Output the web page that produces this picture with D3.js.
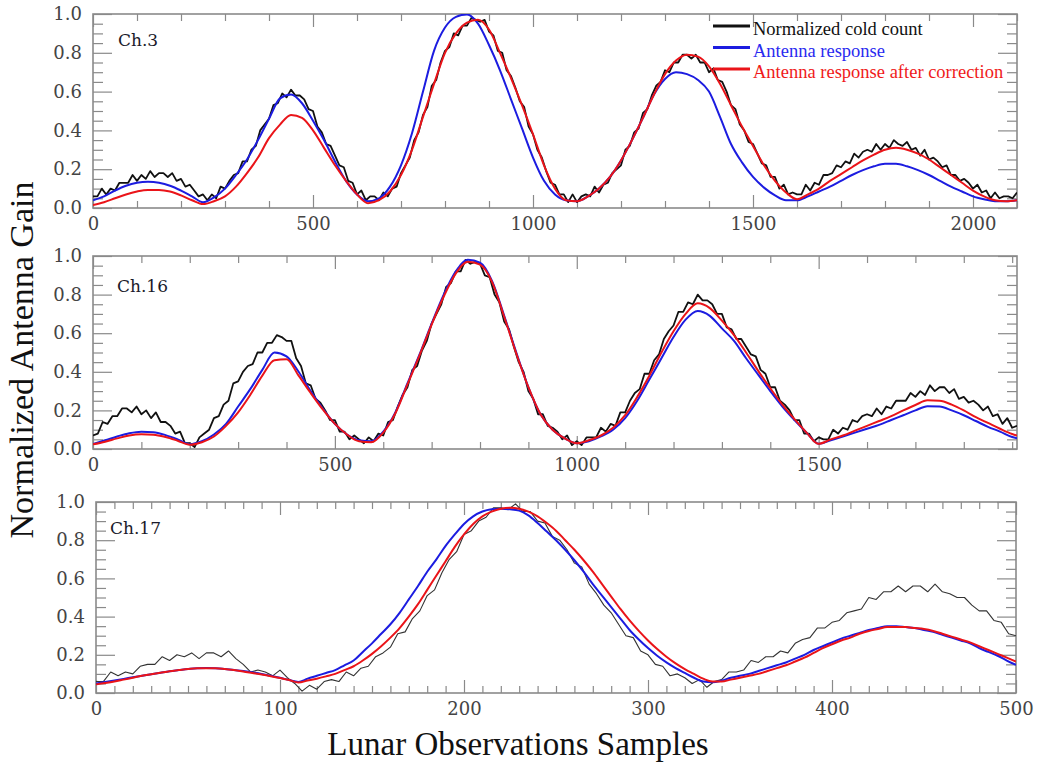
<!DOCTYPE html>
<html><head><meta charset="utf-8">
<script src="https://cdn.jsdelivr.net/npm/d3@7"></script>
<style>html,body{margin:0;padding:0;background:#fff;} svg{display:block;}</style>
</head><body>
<svg id="chart" width="1037" height="764"></svg>
<script>
// ---------- labels ----------
const seriesNames = ["Normalized cold count", "Antenna response", "Antenna response after correction"];
const panelLabels = ["Ch.3", "Ch.16", "Ch.17"];
const xAxisTitle = "Lunar Observations Samples";
const yAxisTitle = "Normalized Antenna Gain";
const yTickValues = [0, 0.2, 0.4, 0.6, 0.8, 1.0];
const yTickLabels = ["0.0", "0.2", "0.4", "0.6", "0.8", "1.0"];
const ch3XTicks = [0, 500, 1000, 1500, 2000];
const ch3XTickLabels = ["0", "500", "1000", "1500", "2000"];
const ch16XTicks = [0, 500, 1000, 1500];
const ch16XTickLabels = ["0", "500", "1000", "1500"];
const ch17XTicks = [0, 100, 200, 300, 400, 500];
const ch17XTickLabels = ["0", "100", "200", "300", "400", "500"];

// ---------- Ch.3 ----------
const ch3BlackX = d3.range(0, 2101, 10);
const ch3Black = [
0.06,0.06,0.10,0.07,0.10,0.09,0.13,0.13,0.13,0.17,0.14,0.17,0.15,0.19,0.16,0.18,
0.18,0.16,0.18,0.14,0.15,0.11,0.12,0.09,0.06,0.07,0.04,0.07,0.05,0.11,0.10,0.14,
0.17,0.18,0.24,0.24,0.30,0.32,0.40,0.43,0.46,0.53,0.54,0.59,0.57,0.61,0.58,0.58,
0.56,0.51,0.50,0.42,0.39,0.33,0.32,0.27,0.22,0.21,0.14,0.13,0.07,0.09,0.04,0.06,
0.06,0.04,0.08,0.06,0.10,0.11,0.18,0.22,0.26,0.35,0.39,0.48,0.52,0.63,0.66,0.75,
0.81,0.83,0.90,0.89,0.94,0.94,0.98,0.97,0.96,0.97,0.91,0.89,0.81,0.80,0.71,0.68,
0.62,0.55,0.52,0.42,0.38,0.30,0.26,0.19,0.13,0.12,0.07,0.07,0.03,0.07,0.03,0.06,
0.07,0.06,0.11,0.08,0.12,0.13,0.18,0.20,0.22,0.30,0.32,0.39,0.41,0.49,0.51,0.58,
0.63,0.65,0.71,0.70,0.75,0.75,0.79,0.79,0.77,0.79,0.75,0.75,0.70,0.72,0.66,0.65,
0.60,0.53,0.51,0.43,0.40,0.34,0.33,0.28,0.23,0.22,0.16,0.16,0.10,0.12,0.07,0.08,
0.07,0.07,0.12,0.09,0.13,0.12,0.17,0.17,0.18,0.22,0.21,0.24,0.23,0.28,0.26,0.29,
0.30,0.29,0.33,0.30,0.33,0.31,0.35,0.33,0.32,0.34,0.30,0.31,0.27,0.30,0.25,0.26,
0.24,0.21,0.22,0.17,0.17,0.14,0.15,0.13,0.10,0.12,0.08,0.09,0.05,0.08,0.05,0.06,
0.06,0.05,0.08];
const ch3SmoothX = d3.range(0, 2101, 25);
const ch3Blue = [
0.04,0.06,0.09,0.115,0.13,0.135,0.13,0.115,0.09,0.06,0.03,
0.055,0.10,0.17,0.25,0.35,0.46,0.565,0.585,0.54,0.45,0.35,0.24,0.14,0.07,0.035,
0.05,0.11,0.22,0.385,0.60,0.81,0.93,0.985,0.998,0.95,0.84,0.71,0.56,0.41,0.26,0.14,0.07,0.04,
0.035,0.06,0.10,0.16,0.245,0.35,0.465,0.585,0.665,0.70,0.69,0.66,0.60,0.47,0.33,0.235,0.16,0.105,0.065,0.04,
0.04,0.06,0.085,0.11,0.14,0.17,0.195,0.215,0.228,0.228,0.215,0.195,0.17,0.14,0.11,0.085,0.06,0.045,0.035,0.035,0.04];
const ch3Red = [
0.015,0.03,0.05,0.07,0.085,0.093,0.093,0.085,0.065,0.04,0.02,
0.035,0.06,0.11,0.18,0.26,0.36,0.43,0.48,0.465,0.40,0.31,0.22,0.14,0.07,0.025,
0.04,0.085,0.17,0.30,0.47,0.64,0.80,0.90,0.955,0.97,0.92,0.80,0.67,0.53,0.38,0.22,0.10,0.04,
0.035,0.06,0.10,0.16,0.245,0.35,0.465,0.585,0.69,0.76,0.79,0.78,0.73,0.64,0.53,0.42,0.32,0.22,0.14,0.08,
0.045,0.07,0.10,0.14,0.175,0.21,0.245,0.275,0.30,0.31,0.30,0.28,0.25,0.21,0.17,0.13,0.09,0.06,0.04,0.035,0.04];

// ---------- Ch.16 ----------
const ch16BlackX = d3.range(0, 1911, 10);
const ch16Black = [
0.07,0.08,0.14,0.13,0.17,0.17,0.21,0.21,0.19,0.22,0.18,0.20,0.16,0.19,0.14,0.14,
0.12,0.08,0.09,0.03,0.03,0.01,0.06,0.08,0.10,0.16,0.17,0.23,0.25,0.34,0.35,0.40,
0.43,0.44,0.50,0.50,0.55,0.55,0.59,0.58,0.56,0.56,0.47,0.43,0.34,0.33,0.26,0.24,
0.20,0.15,0.15,0.09,0.09,0.05,0.07,0.05,0.03,0.06,0.04,0.08,0.07,0.14,0.15,0.22,
0.28,0.32,0.41,0.43,0.51,0.56,0.65,0.70,0.75,0.84,0.86,0.92,0.92,0.98,0.96,0.97,
0.96,0.90,0.89,0.80,0.76,0.66,0.62,0.53,0.45,0.40,0.30,0.26,0.18,0.18,0.12,0.11,
0.09,0.05,0.07,0.02,0.04,0.02,0.06,0.06,0.06,0.11,0.09,0.13,0.12,0.19,0.19,0.25,
0.29,0.31,0.39,0.39,0.46,0.49,0.57,0.61,0.64,0.71,0.71,0.76,0.75,0.80,0.77,0.77,
0.75,0.70,0.70,0.63,0.62,0.57,0.57,0.53,0.49,0.48,0.41,0.39,0.32,0.32,0.25,0.23,
0.20,0.15,0.15,0.08,0.08,0.04,0.06,0.05,0.05,0.10,0.08,0.11,0.10,0.15,0.14,0.17,
0.18,0.17,0.21,0.18,0.22,0.21,0.25,0.25,0.25,0.29,0.27,0.30,0.28,0.33,0.30,0.32,
0.32,0.29,0.31,0.26,0.27,0.24,0.25,0.23,0.20,0.22,0.17,0.18,0.13,0.16,0.11,0.12];
const ch16SmoothX = d3.range(0, 1901, 25).concat([1910]);
const ch16Blue = [
0.026,0.045,0.065,0.082,0.09,0.087,0.072,0.05,0.025,
0.04,0.075,0.13,0.22,0.31,0.41,0.50,0.48,0.40,0.30,0.21,0.13,0.075,0.045,0.04,
0.09,0.19,0.34,0.49,0.65,0.80,0.92,0.98,0.965,0.87,0.69,0.50,0.32,0.18,0.10,0.055,0.03,
0.04,0.065,0.10,0.16,0.25,0.36,0.47,0.58,0.67,0.715,0.69,0.625,0.56,0.47,0.385,0.30,0.22,0.15,0.085,0.027,
0.045,0.065,0.085,0.105,0.125,0.15,0.175,0.20,0.222,0.22,0.20,0.175,0.145,0.115,0.09,0.062,0.055];
const ch16Red = [
0.024,0.038,0.055,0.07,0.076,0.074,0.062,0.043,0.022,
0.035,0.065,0.12,0.19,0.28,0.38,0.46,0.465,0.38,0.29,0.205,0.13,0.075,0.04,0.035,
0.085,0.185,0.335,0.485,0.645,0.79,0.91,0.97,0.955,0.865,0.685,0.495,0.32,0.18,0.10,0.055,0.03,
0.045,0.07,0.11,0.175,0.27,0.38,0.50,0.61,0.70,0.755,0.73,0.665,0.59,0.50,0.405,0.315,0.23,0.155,0.085,0.027,
0.05,0.07,0.095,0.12,0.145,0.17,0.20,0.228,0.252,0.25,0.23,0.20,0.165,0.135,0.105,0.078,0.07];

// ---------- Ch.17 ----------
const ch17BlackX = d3.range(0, 501, 4);
const ch17Black = [
0.06,0.06,0.11,0.09,0.11,0.10,0.14,0.15,0.15,0.19,0.17,0.20,0.19,0.21,0.18,0.21,
0.21,0.19,0.22,0.18,0.15,0.11,0.12,0.11,0.09,0.12,0.08,0.05,0.01,0.04,0.02,0.06,
0.07,0.06,0.11,0.09,0.13,0.14,0.19,0.21,0.24,0.31,0.32,0.39,0.43,0.51,0.54,0.63,
0.70,0.74,0.83,0.85,0.90,0.92,0.97,0.97,0.96,0.99,0.95,0.95,0.90,0.89,0.82,0.80,
0.75,0.68,0.66,0.57,0.52,0.46,0.42,0.36,0.30,0.29,0.22,0.20,0.15,0.14,0.09,0.10,
0.08,0.05,0.07,0.03,0.06,0.07,0.11,0.11,0.12,0.17,0.16,0.19,0.19,0.22,0.21,0.26,
0.28,0.29,0.34,0.34,0.37,0.38,0.42,0.43,0.44,0.50,0.49,0.53,0.53,0.56,0.53,0.56,
0.56,0.53,0.57,0.53,0.52,0.50,0.50,0.46,0.43,0.43,0.38,0.37,0.31,0.30];
const ch17SmoothX = d3.range(0, 501, 5);
const ch17Blue = [
0.05,0.058,0.066,0.074,0.082,0.09,0.098,0.106,0.114,0.12,0.126,0.13,0.131,0.13,0.126,0.12,0.115,0.108,0.10,0.09,0.08,0.068,0.058,
0.075,0.09,0.105,0.12,0.145,0.17,0.215,0.26,0.31,0.36,0.42,0.49,0.56,0.635,0.70,0.77,0.83,0.885,0.925,0.95,0.962,0.965,0.962,0.955,0.93,0.89,0.845,0.80,0.75,0.695,0.635,0.57,0.51,0.45,0.39,0.33,0.28,0.235,0.195,0.16,0.13,0.105,0.08,0.06,0.056,
0.065,0.08,0.09,0.10,0.115,0.13,0.145,0.16,0.18,0.20,0.225,0.245,0.265,0.285,0.30,0.315,0.33,0.34,0.35,0.35,0.345,0.34,0.33,0.32,0.305,0.29,0.275,0.26,0.235,0.215,0.195,0.17,0.147];
const ch17Red = [
0.045,0.052,0.06,0.07,0.08,0.09,0.098,0.106,0.114,0.12,0.126,0.13,0.13,0.13,0.126,0.12,0.113,0.105,0.097,0.088,0.078,0.068,0.055,
0.065,0.075,0.087,0.10,0.12,0.14,0.17,0.205,0.245,0.29,0.34,0.40,0.465,0.54,0.615,0.69,0.765,0.83,0.885,0.925,0.95,0.965,0.97,0.965,0.95,0.925,0.89,0.85,0.80,0.75,0.695,0.635,0.57,0.505,0.44,0.38,0.325,0.275,0.23,0.19,0.155,0.125,0.10,0.075,0.06,
0.06,0.07,0.08,0.09,0.10,0.115,0.13,0.145,0.165,0.185,0.21,0.235,0.255,0.275,0.29,0.31,0.325,0.335,0.345,0.345,0.345,0.34,0.335,0.325,0.31,0.295,0.28,0.265,0.245,0.225,0.205,0.185,0.165];

// ---------- drawing ----------
const svg = d3.select("#chart");
svg.append("rect").attr("width", 1037).attr("height", 764).attr("fill", "#fff");

const COLORS = { black: "#111111", blue: "#1c1ce0", red: "#ea1419" };
const TICK_FONT = "'DejaVu Serif', serif";
const TITLE_FONT = "'Liberation Serif', 'Times New Roman', serif";

const panels = [
  { name: panelLabels[0], xMax: 2100, xMajor: ch3XTicks, xLabels: ch3XTickLabels, minorStep: 100,
    bx: ch3BlackX, black: ch3Black, sx: ch3SmoothX, blue: ch3Blue, red: ch3Red,
    left: 93, right: 1017, top: 14, bottom: 208, lx: 118, ly: 46, legend: true, blackW: 1.8, blackC: "#111" },
  { name: panelLabels[1], xMax: 1910, xMajor: ch16XTicks, xLabels: ch16XTickLabels, minorStep: 100,
    bx: ch16BlackX, black: ch16Black, sx: ch16SmoothX, blue: ch16Blue, red: ch16Red,
    left: 93, right: 1017, top: 256, bottom: 449, lx: 117, ly: 292, legend: false, blackW: 1.8, blackC: "#111" },
  { name: panelLabels[2], xMax: 500, xMajor: ch17XTicks, xLabels: ch17XTickLabels, minorStep: 10,
    bx: ch17BlackX, black: ch17Black, sx: ch17SmoothX, blue: ch17Blue, red: ch17Red,
    left: 96, right: 1016, top: 502, bottom: 693, lx: 110, ly: 534, legend: false, blackW: 1.1, blackC: "#333" }
];

function styleAxis(sel) {
  sel.select(".domain").remove();
  sel.selectAll(".tick line").attr("stroke", "#8a8a8a").attr("stroke-width", 1.2);
  sel.selectAll(".tick text").attr("fill", "#444").style("font-family", TICK_FONT).style("font-size", "18px");
}

panels.forEach((p, pi) => {
  const g = svg.append("g");
  const x = d3.scaleLinear().domain([0, p.xMax]).range([p.left, p.right]);
  const y = d3.scaleLinear().domain([0, 1]).range([p.bottom, p.top]);
  const minorX = d3.range(0, p.xMax + 0.001, p.minorStep).filter(v => !p.xMajor.includes(v));
  const minorY = d3.range(0, 1.0001, 0.05).map(v => +v.toFixed(2)).filter(v => !yTickValues.some(t => Math.abs(t - v) < 1e-6));

  const clipId = "clip" + pi;
  g.append("clipPath").attr("id", clipId).append("rect")
    .attr("x", p.left).attr("y", p.top).attr("width", p.right - p.left).attr("height", p.bottom - p.top);

  g.append("g").attr("transform", `translate(0,${p.bottom})`)
    .call(d3.axisBottom(x).tickValues(p.xMajor).tickSizeInner(-13).tickSizeOuter(0).tickPadding(9)
      .tickFormat((d, i) => p.xLabels[i])).call(styleAxis);
  g.append("g").attr("transform", `translate(0,${p.bottom})`)
    .call(d3.axisBottom(x).tickValues(minorX).tickSizeInner(-7).tickSizeOuter(0).tickFormat("")).call(styleAxis);
  g.append("g").attr("transform", `translate(0,${p.top})`)
    .call(d3.axisTop(x).tickValues(p.xMajor).tickSizeInner(-13).tickSizeOuter(0).tickFormat("")).call(styleAxis);
  g.append("g").attr("transform", `translate(0,${p.top})`)
    .call(d3.axisTop(x).tickValues(minorX).tickSizeInner(-7).tickSizeOuter(0).tickFormat("")).call(styleAxis);
  g.append("g").attr("transform", `translate(${p.left},0)`)
    .call(d3.axisLeft(y).tickValues(yTickValues).tickSizeInner(-19).tickSizeOuter(0).tickPadding(11)
      .tickFormat((d, i) => yTickLabels[i])).call(styleAxis);
  g.append("g").attr("transform", `translate(${p.left},0)`)
    .call(d3.axisLeft(y).tickValues(minorY).tickSizeInner(-10).tickSizeOuter(0).tickFormat("")).call(styleAxis);
  g.append("g").attr("transform", `translate(${p.right},0)`)
    .call(d3.axisRight(y).tickValues(yTickValues).tickSizeInner(-19).tickSizeOuter(0).tickFormat("")).call(styleAxis);
  g.append("g").attr("transform", `translate(${p.right},0)`)
    .call(d3.axisRight(y).tickValues(minorY).tickSizeInner(-10).tickSizeOuter(0).tickFormat("")).call(styleAxis);

  g.append("rect").attr("x", p.left).attr("y", p.top)
    .attr("width", p.right - p.left).attr("height", p.bottom - p.top)
    .attr("fill", "none").attr("stroke", "#8a8a8a").attr("stroke-width", 1.6);

  const plot = g.append("g").attr("clip-path", `url(#${clipId})`);
  const lineLin = d3.line().x(d => x(d[0])).y(d => y(d[1]));
  const lineSmooth = d3.line().x(d => x(d[0])).y(d => y(d[1])).curve(d3.curveMonotoneX);

  plot.append("path").datum(p.bx.map((v, i) => [v, p.black[i]]))
    .attr("d", lineLin).attr("fill", "none").attr("stroke", p.blackC)
    .attr("stroke-width", p.blackW).attr("stroke-linejoin", "round");
  plot.append("path").datum(p.sx.map((v, i) => [v, p.blue[i]]))
    .attr("d", lineSmooth).attr("fill", "none").attr("stroke", COLORS.blue).attr("stroke-width", 2);
  plot.append("path").datum(p.sx.map((v, i) => [v, p.red[i]]))
    .attr("d", lineSmooth).attr("fill", "none").attr("stroke", COLORS.red).attr("stroke-width", 2);

  g.append("text").attr("x", p.lx).attr("y", p.ly).text(p.name)
    .style("font-family", TICK_FONT).style("font-size", "17px").attr("fill", "#1a1a2a");

  if (p.legend) {
    const legColors = [COLORS.black, COLORS.blue, COLORS.red];
    const legTextColors = ["#111", "#2a2af0", "#f01a1a"];
    const rowY = [26, 47.5, 69];
    seriesNames.forEach((s, i) => {
      g.append("line").attr("x1", 713).attr("x2", 750).attr("y1", rowY[i]).attr("y2", rowY[i])
        .attr("stroke", legColors[i]).attr("stroke-width", 3);
      g.append("text").attr("x", 753).attr("y", rowY[i] + 9).text(s)
        .style("font-family", TITLE_FONT).style("font-size", "18.5px").attr("fill", legTextColors[i]);
    });
  }
});

svg.append("text").attr("transform", "translate(33,360) rotate(-90)")
  .attr("text-anchor", "middle").text(yAxisTitle)
  .style("font-family", TITLE_FONT).style("font-size", "34px").attr("fill", "#111");
svg.append("text").attr("x", 518).attr("y", 755)
  .attr("text-anchor", "middle").text(xAxisTitle)
  .style("font-family", TITLE_FONT).style("font-size", "33px").attr("fill", "#111");
</script>
</body></html>
